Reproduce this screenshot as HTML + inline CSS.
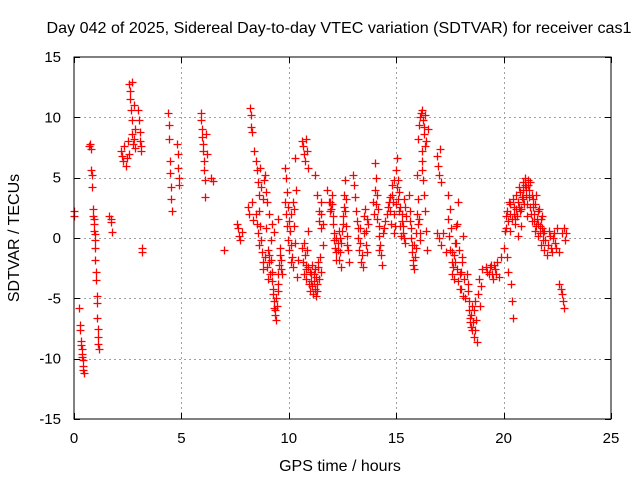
<!DOCTYPE html>
<html><head><meta charset="utf-8"><style>
body{margin:0;background:#fff}
svg{display:block;font-family:"Liberation Sans",sans-serif}
</style></head><body>
<svg id="chart" width="640" height="480" viewBox="0 0 640 480">
<text x="339" y="33" font-size="16" text-anchor="middle" textLength="585" lengthAdjust="spacingAndGlyphs">Day 042 of 2025, Sidereal Day-to-day VTEC variation (SDTVAR) for receiver cas1</text>
<g id="grid"></g>
<g id="marks"></g>
<rect x="74" y="57" width="537" height="362" fill="none" stroke="#000" shape-rendering="crispEdges"/>
<g id="ticks"></g>
<text x="340" y="471" font-size="16" text-anchor="middle">GPS time / hours</text>
<text transform="translate(19,238) rotate(-90)" font-size="16" text-anchor="middle">SDTVAR / TECUs</text>
</svg>
<script>
const xTicks=[0,5,10,15,20,25];
const yTicks=[-15,-10,-5,0,5,10,15];
const times=[0.0,0.02,0.25,0.28,0.3,0.33,0.35,0.37,0.4,0.42,0.45,0.38,0.32,0.43,
0.72,0.75,0.78,0.8,0.82,0.85,0.87,0.9,0.92,0.95,0.97,0.98,1.0,1.02,1.03,1.05,1.07,1.08,1.1,1.12,1.13,1.15,0.93,0.97,
1.65,1.7,1.72,1.75,
2.2,2.25,2.3,2.35,2.4,2.45,2.5,2.55,2.58,2.6,2.62,2.65,2.68,2.7,2.72,2.75,2.78,2.8,2.82,2.85,
3.0,3.02,3.05,3.07,3.1,3.12,3.15,3.17,
4.38,4.4,4.42,4.45,4.47,4.5,4.52,4.55,4.8,4.82,4.85,4.87,4.9,
5.9,5.92,5.95,5.97,6.0,6.02,6.05,6.07,6.1,6.12,6.15,6.17,6.4,6.45,
7.0,7.6,7.65,7.7,7.75,7.8,
8.2,8.22,8.25,8.28,8.1,8.15,8.3,8.35,8.4,8.45,8.5,8.55,8.6,8.6,8.65,8.7,8.75,8.8,8.85,8.9,8.95,
9.0,9.05,9.1,9.15,9.2,9.25,9.3,9.35,9.4,9.45,9.5,9.55,9.6,9.0,9.1,9.2,9.3,9.5,9.65,9.7,
9.8,9.85,9.9,9.95,10.0,10.05,10.1,10.15,10.2,10.25,10.3,10.35,10.4,10.45,
10.6,10.65,10.7,10.75,10.8,10.85,10.9,10.7,10.75,10.8,10.85,10.9,11.0,11.05,11.1,11.15,11.2,11.25,11.3,11.35,11.4,11.45,11.5,11.2,11.3,11.4,11.5,11.6,
11.8,11.85,11.9,12.0,12.05,12.1,12.15,12.2,12.3,12.35,12.4,12.45,12.5,12.55,12.6,12.65,12.7,12.75,12.8,
13.0,13.05,13.1,13.2,13.3,13.4,13.45,13.5,13.55,13.6,13.65,13.7,
14.0,14.05,14.1,14.15,14.2,14.25,14.3,14.35,14.4,14.5,14.6,14.7,14.8,14.85,14.9,14.95,15.0,15.05,15.1,15.15,15.2,15.25,15.3,15.35,15.4,15.45,
15.6,15.65,15.7,15.75,15.8,15.85,15.9,15.95,16.0,16.05,16.1,16.15,16.2,16.25,16.3,16.35,16.2,16.25,16.3,16.35,16.4,16.45,16.0,16.1,16.5,
16.9,16.95,17.0,17.05,17.1,16.9,17.0,17.1,17.2,17.3,17.4,17.5,17.55,17.6,17.65,17.7,17.75,17.8,17.85,17.9,17.95,18.0,18.05,18.1,18.15,18.2,
18.3,18.35,18.4,18.45,18.5,18.55,18.6,18.65,18.7,18.75,18.8,18.85,18.9,18.95,19.0,
19.2,19.3,19.4,19.5,19.6,19.7,19.8,19.9,
20.0,20.05,20.1,20.15,20.2,20.25,20.3,20.35,20.4,20.45,20.5,20.55,20.6,20.65,20.7,20.75,20.8,20.85,20.9,20.95,21.0,21.05,21.1,21.15,21.2,21.25,21.3,21.35,21.4,21.45,21.5,21.55,21.6,21.65,21.7,21.75,21.8,21.85,21.9,21.95,22.0,22.1,22.2,22.3,22.4,22.5,22.6,22.7,22.8,22.85,22.9,
22.6,22.65,22.7,22.75,22.8,
8.45,8.5,8.55,8.62,8.68,8.72,8.78,8.82,8.88,8.92,
9.02,9.08,9.12,9.18,9.22,9.28,9.32,9.38,9.42,9.48,9.52,9.58,9.62,
9.82,9.88,9.92,9.98,10.02,10.08,10.12,10.18,10.22,10.28,
10.62,10.68,10.72,10.78,10.82,10.88,10.92,10.98,11.02,11.08,11.12,11.18,11.22,11.28,11.32,11.38,11.42,11.48,11.52,11.58,
11.92,11.98,12.02,12.08,12.12,12.18,12.22,12.28,12.32,12.38,12.42,12.48,12.52,12.58,12.62,12.68,12.72,
13.12,13.18,13.22,13.28,13.32,13.38,13.52,13.58,13.62,13.9,13.95,
14.02,14.08,14.12,14.18,14.22,14.45,14.55,14.65,14.72,14.78,14.82,14.88,14.92,14.98,15.02,15.08,15.12,15.18,15.22,15.28,15.32,15.38,15.42,
15.62,15.68,15.72,15.78,15.82,15.88,15.92,15.98,16.02,16.08,16.12,16.18,16.22,16.28,16.32,16.38,
17.42,17.48,17.52,17.58,17.62,17.68,17.72,17.78,17.82,17.88,17.92,17.98,18.02,18.08,18.12,
18.32,18.38,18.42,18.48,18.52,18.58,18.62,18.68,
19.25,19.35,19.45,19.55,19.65,
20.12,20.18,20.22,20.28,20.32,20.38,20.42,20.48,20.52,20.58,20.62,20.68,20.72,20.78,20.82,20.88,20.92,20.98,21.02,21.08,21.12,21.18,21.22,21.28,21.32,21.38,21.42,21.48,21.52,21.58,21.62,21.68,21.72,21.78,21.82,21.88,22.05,22.15,22.25,22.35,22.45];
const sdtvar=[2.2,1.8,-5.8,-7.2,-7.6,-8.5,-9.2,-9.6,-10.1,-10.6,-11.2,-9.9,-8.9,-10.9,
7.6,7.8,7.4,5.6,5.2,4.2,2.4,1.8,1.2,0.6,-0.2,-0.8,-1.8,-2.8,-3.5,-4.8,-5.4,-6.6,-7.5,-8.2,-8.8,-9.2,1.6,0.3,
1.8,1.6,1.3,0.5,
7.2,6.8,6.4,7.6,6.0,6.6,8.0,7.0,12.8,12.2,11.5,10.6,9.8,12.9,8.6,7.8,11.0,8.2,7.5,9.0,
10.6,9.8,8.8,8.0,7.6,7.2,-0.8,-1.2,
10.4,9.4,8.2,6.4,5.4,4.2,3.2,2.2,7.8,7.0,5.8,5.0,4.4,
10.4,9.8,9.0,8.4,7.8,7.2,6.4,5.6,4.8,3.4,8.6,7.0,5.0,4.7,
-1.0,1.2,0.8,0.2,-0.2,0.5,
10.8,10.2,9.2,8.8,2.6,2.0,3.0,1.5,7.2,6.4,5.6,4.6,3.6,2.2,1.0,-0.2,-1.2,-2.0,4.8,5.2,3.8,
-2.4,-3.4,-1.4,-0.2,-2.8,-4.2,-5.2,-6.0,-6.8,-5.6,-3.8,-2.2,-0.8,3.0,2.0,1.2,0.5,1.6,-1.8,-3.0,
5.8,5.0,3.8,2.6,1.4,0.6,-0.6,-1.6,-2.4,2.4,6.6,4.0,-3.2,-1.8,
8.0,7.6,7.0,6.4,8.2,7.2,5.8,-0.4,-1.4,-2.6,-1.0,0.6,-2.8,-3.6,-2.2,-3.0,-4.2,-4.8,-3.8,-2.4,-3.4,-1.6,-2.8,5.2,3.6,2.2,0.8,-0.6,
4.0,3.0,2.2,3.6,1.8,0.4,-0.8,-1.8,-0.4,0.6,-1.2,-2.4,1.2,2.6,4.8,3.2,0.2,-1.0,-2.0,
5.2,4.4,3.4,0.8,-0.4,-1.4,-2.4,1.8,2.4,0.6,-1.2,1.2,
6.2,5.0,3.6,2.4,1.0,-0.6,-1.4,-2.2,0.4,1.4,2.6,3.4,4.4,3.0,2.0,1.0,5.6,6.6,4.8,3.8,2.6,1.4,0.4,3.2,-0.4,1.8,
3.6,2.2,0.8,-0.6,-1.8,-2.6,-0.8,5.2,8.2,9.4,10.0,10.4,10.6,9.8,8.6,7.6,6.4,4.8,3.6,2.2,0.6,-1.0,1.2,-0.2,9.0,
6.8,6.0,5.2,7.4,4.6,0.4,0.0,-0.6,0.4,-1.2,3.6,2.4,0.8,-1.2,-2.4,-3.4,-2.0,-0.4,1.2,3.0,-4.2,-2.8,-1.6,0.2,-3.4,-5.0,
-3.0,-4.4,-6.0,-7.0,-6.4,-7.6,-8.2,-5.2,-6.8,-8.6,-4.6,-3.4,-5.6,-4.0,-2.6,
-2.4,-3.0,-2.2,-3.4,-2.6,-2.0,-3.2,-1.6,
-0.8,0.6,1.8,-1.6,-2.8,3.0,2.0,-3.8,-5.2,-6.6,2.6,1.2,3.6,0.2,4.2,2.2,1.0,3.4,4.6,2.8,5.0,3.6,1.8,4.8,4.0,2.6,1.4,3.2,2.0,0.6,3.6,1.6,0.2,2.4,1.0,-0.6,1.8,0.4,-1.0,-0.2,-1.4,0.6,-0.8,0.0,-0.4,0.8,-1.2,0.4,0.8,-0.2,0.4,
-3.8,-4.2,-4.6,-5.2,-5.8,
2.0,1.2,0.4,-0.6,5.8,4.2,3.2,-2.6,-1.6,0.8,
-1.0,-2.0,-3.0,-1.8,-3.6,-4.6,-5.8,-6.4,-5.0,-4.4,-3.0,-1.4,-2.6,
3.0,2.0,1.0,-0.2,-1.0,-2.0,2.0,3.0,1.0,-0.4,
-0.8,-2.0,-3.0,-2.2,-3.4,-2.4,-3.8,-4.4,-3.0,-4.0,-4.6,-3.6,-2.6,-3.2,-4.4,-2.0,1.4,3.0,2.0,1.2,
3.0,2.4,2.8,1.2,-0.2,-1.2,0.0,-1.0,-1.8,0.0,-0.4,0.6,1.8,3.6,2.2,1.0,-0.6,
2.2,1.4,0.0,-1.0,0.8,-2.0,0.4,-0.6,1.6,3.0,2.0,
4.0,2.8,1.6,0.2,-1.0,0.8,2.0,3.0,2.2,1.2,3.6,4.8,0.4,2.8,4.2,3.2,2.2,1.0,0.2,2.0,1.0,0.0,2.6,
1.4,0.0,-1.2,-2.2,-0.6,-1.6,0.4,2.0,3.2,1.6,0.4,5.6,7.2,9.2,10.2,8.0,
1.6,0.2,-1.0,-2.0,-3.0,-1.4,-0.4,1.0,-2.6,-3.6,-1.0,-3.0,-4.2,-2.0,-4.8,
-3.8,-5.2,-6.6,-7.4,-5.6,-7.0,-6.0,-7.6,
-2.8,-2.4,-3.0,-2.2,-3.0,
0.8,2.2,1.4,2.8,0.6,1.6,3.2,2.0,1.6,2.4,1.8,3.0,2.6,3.8,2.4,4.0,3.2,4.4,4.2,2.8,4.4,3.4,4.6,2.0,3.6,2.6,1.4,2.8,1.0,2.2,1.2,0.4,1.6,0.8,-0.2,0.6,-0.6,0.2,-1.2,0.4,-0.8];

const X0=74,X1=611,Y0=419,Y1=57;
const sx=t=>X0+(t-0)/(25-0)*(X1-X0);
const sy=v=>Y0-(v+15)/30*(Y0-Y1);
const NS='http://www.w3.org/2000/svg';
const grid=document.getElementById('grid'),ticks=document.getElementById('ticks'),marks=document.getElementById('marks');
function mk(tag,attrs,parent){const e=document.createElementNS(NS,tag);for(const k in attrs)e.setAttribute(k,attrs[k]);parent.appendChild(e);return e;}
xTicks.forEach(t=>{
  const x=Math.round(sx(t))+0.5;
  if(t>0&&t<25){const g=mk('line',{x1:x,x2:x,y1:Y1,y2:Y0,stroke:'#a0a0a0','stroke-dasharray':'2,3'},grid);
  
  }
  mk('line',{x1:x,x2:x,y1:Y0,y2:Y0-6,stroke:'#000'},ticks);
  mk('line',{x1:x,x2:x,y1:Y1,y2:Y1+6,stroke:'#000'},ticks);
  const l=mk('text',{x:sx(t),y:443,'font-size':15,'text-anchor':'middle'},ticks);l.textContent=t;
  
  
});
yTicks.forEach(v=>{
  const y=Math.round(sy(v))+0.5;
  if(v>-15&&v<15){const g=mk('line',{x1:X0,x2:X1,y1:y,y2:y,stroke:'#a0a0a0','stroke-dasharray':'2,3'},grid);
  
  }
  mk('line',{x1:X0,x2:X0+6,y1:y,y2:y,stroke:'#000'},ticks);
  mk('line',{x1:X1,x2:X1-6,y1:y,y2:y,stroke:'#000'},ticks);
  const l=mk('text',{x:61,y:sy(v)+5,'font-size':15,'text-anchor':'end'},ticks);l.textContent=v;
  
  
});
let d='';
times.forEach((t,i)=>{const x=Math.round(sx(t))+0.5,y=Math.round(sy(sdtvar[i]))+0.5;d+=`M${x-4} ${y}H${x+4}M${x} ${y-4}V${y+4}`;});
const p=mk('path',{d:d,stroke:'#ff0000','stroke-width':1.3,fill:'none'},marks);


</script>
</body></html>
